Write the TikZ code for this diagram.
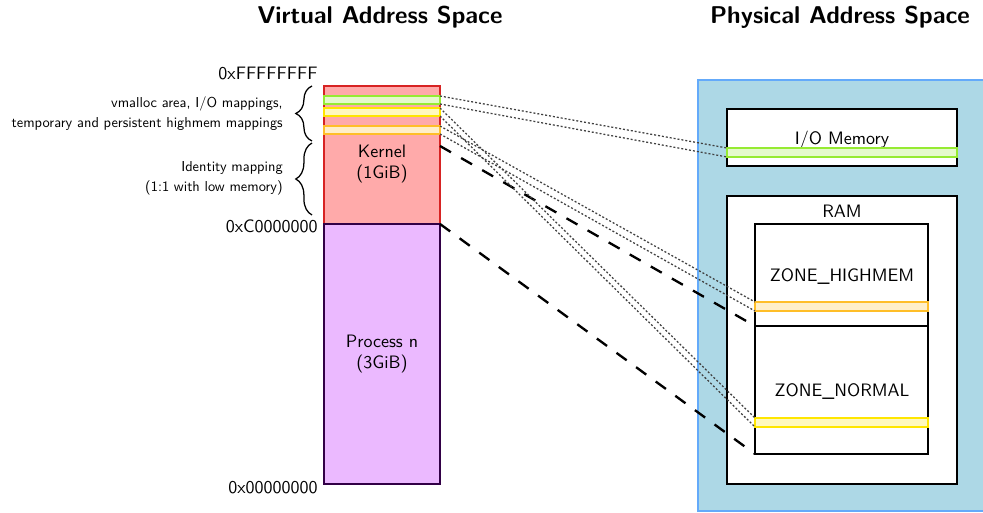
\documentclass[tikz,border=0pt]{standalone}
\usetikzlibrary{fit,decorations.pathreplacing}
\renewcommand{\familydefault}{\sfdefault}
\definecolor{kfill}{RGB}{255,170,170}
\definecolor{kdraw}{RGB}{215,35,35}
\definecolor{pfill}{RGB}{235,185,255}
\definecolor{pdraw}{RGB}{50,0,70}
\definecolor{bfill}{RGB}{173,216,230}
\definecolor{bdraw}{RGB}{100,170,250}
\definecolor{sgreen}{RGB}{150,235,50}
\definecolor{syellow}{RGB}{255,230,0}
\definecolor{sorange}{RGB}{255,190,40}
\begin{document}
\begin{tikzpicture}[x=0.556pt,y=-0.556pt,
  vregion/.style={inner sep=0pt, outer sep=0pt, line width=1.2pt},
  vstripe/.style={inner sep=0pt, outer sep=0pt, line width=1.1pt, draw=#1, fill=#1!25!white},
  pbox/.style={inner sep=0pt, outer sep=0pt, draw=black, line width=1.3pt, fill=white},
  dotline/.style={draw=black!75, line width=0.7pt, dash pattern=on 1.1pt off 1.1pt},
  dashline/.style={draw=black, line width=1.3pt, dash pattern=on 7pt off 6.5pt},
  addr/.style={anchor=east, inner sep=0pt},
  bracetext/.style={anchor=east, inner sep=0pt, align=right, font=\normalsize, scale=0.8, transform shape},
  bracestyle/.style={decorate, decoration={brace, amplitude=9pt}, line width=0.7pt},
  title/.style={font=\fontsize{13.5}{16}\selectfont\bfseries}]
\clip (0,0) rectangle (983,513);
% titles
\node[title] (vtitle) at (380,17) {Virtual Address Space};
\node[title] (ptitle) at (840,17) {Physical Address Space};
% virtual space
\node[fit={(324,86)(440,224)}, vregion, draw=kdraw, fill=kfill] (kernel) {};
\node[fit={(324,224)(440,484)}, vregion, draw=pdraw, fill=pfill] (process) {};
\node[fit={(324,96)(440,104)}, vstripe=sgreen] (vgreen) {};
\node[fit={(324,108)(440,116)}, vstripe=syellow] (vyellow) {};
\node[fit={(324,126)(440,134)}, vstripe=sorange] (vorange) {};
\node[align=center] (ktext) at (382,164) {Kernel\\(1GiB)};
\node[align=center] (ptext) at (382,354) {Process n\\(3GiB)};
\node[addr] (atop) at (318,73) {0xFFFFFFFF};
\node[addr] (amid) at (318,226) {0xC0000000};
\node[addr] (abot) at (318,488) {0x00000000};
% braces
\draw[bracestyle] (312,141) -- (312,86);
\draw[bracestyle] (312,215) -- (312,143);
\node[bracetext] (b1) at (283,114) {vmalloc area, I/O mappings,\\[2pt]temporary and persistent highmem mappings};
\node[bracetext] (b2) at (283,178) {Identity mapping\\[2pt](1:1 with low memory)};
% physical space
\node[fit={(698,80)(1000,511)}, vregion, draw=bdraw, fill=bfill] (phys) {};
\node[fit={(727,109)(957,166)}, pbox] (io) {};
\node (iotext) at (842,140) {I/O Memory};
\node[fit={(727,196)(957,484)}, pbox] (ram) {};
\node (ramtext) at (842,211) {RAM};
\node[fit={(755,224)(928,326)}, pbox] (high) {};
\node[fit={(755,326)(928,454)}, pbox] (normal) {};
\node (hightext) at (842,277) {ZONE\_HIGHMEM};
\node (normtext) at (842,392) {ZONE\_NORMAL};
\node[fit={(727,148)(957,157)}, vstripe=sgreen] (pgreen) {};
\node[fit={(755,302)(928,311)}, vstripe=sorange] (porange) {};
\node[fit={(755,418)(928,427)}, vstripe=syellow] (pyellow) {};
% connectors
\coordinate (idtop) at (440,146);
\draw[dashline] (idtop) -- (normal.north west);
\draw[dashline] (kernel.south east) -- (normal.south west);
\draw[dotline] (vgreen.north east) -- (pgreen.north west);
\draw[dotline] (vgreen.south east) -- (pgreen.south west);
\draw[dotline] (vyellow.north east) -- (pyellow.north west);
\draw[dotline] (vyellow.south east) -- (pyellow.south west);
\draw[dotline] (vorange.north east) -- (porange.north west);
\draw[dotline] (vorange.south east) -- (porange.south west);
\end{tikzpicture}
\end{document}
